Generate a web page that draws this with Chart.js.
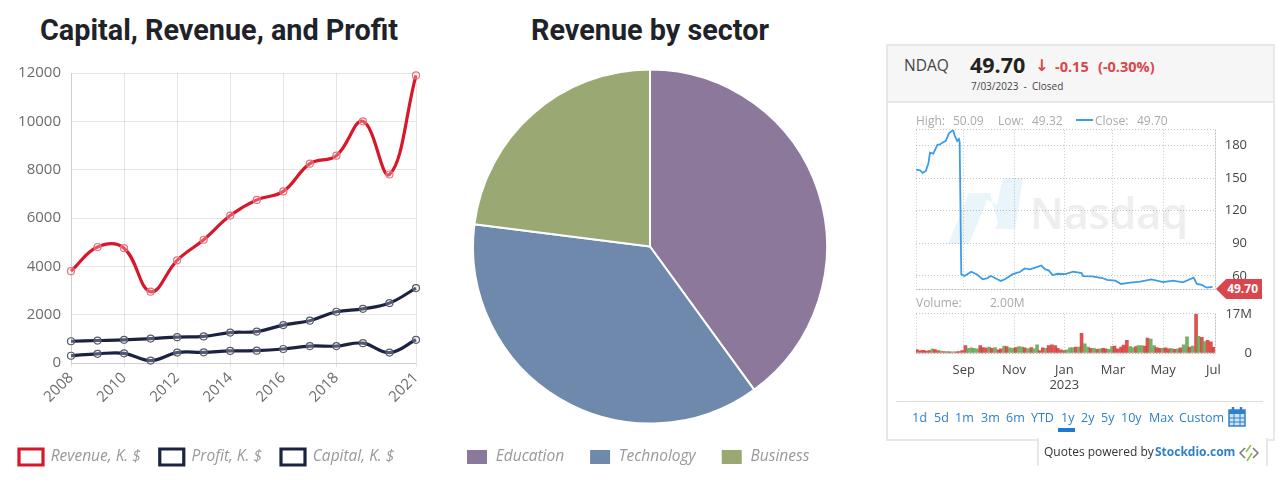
<!DOCTYPE html>
<html>
<head>
<meta charset="utf-8">
<title>Capital, Revenue, and Profit</title>
<script src="https://cdn.jsdelivr.net/npm/chart.js@4"></script>
<style>
  html, body { margin: 0; padding: 0; background: #fff; }
  body { position: relative; width: 1280px; height: 490px; overflow: hidden; font-family: "Open Sans", sans-serif; }
  canvas { position: absolute; display: block; }
  .t { position: absolute; white-space: nowrap; line-height: 1; }
  .title { font: 700 28.8px Roboto, sans-serif; color: #1f2329; transform: translateX(-50%); top: 13px; }
  .gray { color: #aaa; font-size: 12px; }
  .link { color: #2f80c8; font-size: 12.5px; top: 412px; }
  .loss { color: #d9474c; font-size: 14.5px; font-weight: 700; top: 60px; }
  #panel { position: absolute; left: 886px; top: 44px; width: 385px; height: 393px; border: 2px solid #e8e8e8; box-sizing: content-box; }
  #head { position: absolute; left: 888px; top: 46px; width: 385px; height: 55px; background: #f6f6f6; border-bottom: 2px solid #e8e8e8; }
  #sep { position: absolute; left: 896px; top: 401px; width: 367px; height: 1px; background: #ddd; }
  #credit { position: absolute; left: 1037px; top: 438px; width: 227px; height: 28px; background: #fff; border: 2px solid #e8e8e8; border-top: 0; border-bottom: 0; }
  #tag { position: absolute; left: 1216px; top: 279px; width: 46px; height: 20px; background: #d9474c; color: #fff; font: 700 12px/20px "Open Sans", sans-serif; text-align: right; padding-right: 4px; box-sizing: border-box; clip-path: polygon(0 50%, 22% 0, 100% 0, 100% 100%, 22% 100%); z-index: 5; }
  #underline { position: absolute; left: 1058px; top: 428px; width: 17px; height: 4px; background: #1f78d1; }
  #mark { position: absolute; left: 1030px; top: 183px; font: 600 43px "Open Sans", sans-serif; color: #eeeeee; }
</style>
</head>
<body>

<div class="t title" style="left:219px">Capital, Revenue, and Profit</div>
<div class="t title" style="left:650px">Revenue by sector</div>

<div id="panel"></div>
<div id="head"></div>
<div id="sep"></div>
<div id="credit"></div>

<!-- watermark -->
<svg style="position:absolute;left:945px;top:175px" width="85" height="75">
  <polygon points="3,69 24,18 45,18 24,69" fill="#e9f4fb"/>
  <polygon points="30,18 45,18 54,52 78,3 58,3 52,30" fill="#e9f4fb"/>
  <polygon points="50,54 78,3 70,54" fill="#e9f4fb"/>
</svg>
<div id="mark" class="t">Nasdaq</div>

<canvas id="lineChart" width="450" height="422" style="left:0;top:54px"></canvas>
<canvas id="pieChart" width="418" height="416" style="left:441px;top:60px"></canvas>
<canvas id="priceChart" width="386" height="199" style="left:886px;top:110px"></canvas>
<canvas id="volumeChart" width="386" height="103" style="left:886px;top:293px"></canvas>

<div class="t" style="left:904px;top:58px;font-size:15.5px;color:#444">NDAQ</div>
<div class="t" style="left:970px;top:54px;font-size:21.5px;font-weight:700;color:#222">49.70</div>
<div class="t loss" style="left:1035px;top:58px;font-family:'DejaVu Sans',sans-serif;font-size:16px">&#8595;</div>
<div class="t loss" style="left:1055px">-0.15</div>
<div class="t loss" style="left:1098px">(-0.30%)</div>
<div class="t" style="left:971px;top:81px;font-size:10px;color:#444">7/03/2023&nbsp; - &nbsp;Closed</div>

<div class="t gray" style="left:916px;top:115px">High:</div>
<div class="t gray" style="left:953px;top:115px">50.09</div>
<div class="t gray" style="left:998px;top:115px">Low:</div>
<div class="t gray" style="left:1032px;top:115px">49.32</div>
<div style="position:absolute;left:1076px;top:119px;width:17px;height:2px;background:#3b9de8"></div>
<div class="t gray" style="left:1095px;top:115px">Close:</div>
<div class="t gray" style="left:1137px;top:115px">49.70</div>
<div class="t gray" style="left:916px;top:297px">Volume:</div>
<div class="t gray" style="left:990px;top:297px">2.00M</div>

<div id="tag">49.70</div>

<div class="t link" style="left:912px">1d</div>
<div class="t link" style="left:934px">5d</div>
<div class="t link" style="left:955px">1m</div>
<div class="t link" style="left:981px">3m</div>
<div class="t link" style="left:1006px">6m</div>
<div class="t link" style="left:1031px">YTD</div>
<div class="t link" style="left:1061px">1y</div>
<div class="t link" style="left:1081px">2y</div>
<div class="t link" style="left:1101px">5y</div>
<div class="t link" style="left:1121px">10y</div>
<div class="t link" style="left:1149px">Max</div>
<div class="t link" style="left:1179px">Custom</div>
<div id="underline"></div>
<svg style="position:absolute;left:1228px;top:407px" width="18" height="20">
  <rect x="1" y="3" width="16" height="16" fill="#cfe3f5" stroke="#2f80c8" stroke-width="1.5"/>
  <rect x="1" y="3" width="16" height="4" fill="#2f80c8"/>
  <path d="M1 11H17M1 15H17M6 7V19M12 7V19" stroke="#2f80c8" stroke-width="1"/>
  <path d="M5 0V4M13 0V4" stroke="#2f80c8" stroke-width="2.5"/>
</svg>

<div class="t" style="left:1044px;top:446px;font-size:12px;color:#333">Quotes powered by</div>
<div class="t" style="left:1155px;top:446px;font-size:12px;font-weight:700;color:#2f80c8">Stockdio.com</div>
<svg style="position:absolute;left:1239px;top:443px" width="20" height="20" fill="none" stroke-width="1.5">
  <path d="M6 5L1 10L6 15M14 5L19 10L14 15" stroke="#777"/>
  <path d="M12 2L7 9M13 10L8 18" stroke="#8cc04b"/>
</svg>

<script>
// --- left chart data
const years = ['2008','2009','2010','2011','2012','2013','2014','2015','2016','2017','2018','2019','2020','2021'];
const yearLabels = ['2008','2010','2012','2014','2016','2018','2021'];
const revenue = [3800,4800,4750,2950,4250,5100,6100,6750,7100,8250,8580,10000,7800,11900];
const profit = [300,380,400,100,430,440,500,510,580,700,700,820,430,960];
const capital = [900,930,960,1010,1070,1100,1260,1300,1570,1750,2120,2240,2480,3100];

// --- pie data
const sectors = ['Education','Technology','Business'];
const sectorRevenue = [40,37,23];

// --- stock data (x = days since start of the 1y range)
const closeDays = [0,5,8,12,15,17,21,26,29,33,36,40,45,47,50,52,53,55,59,67,74,81,86,91,96,103,108,117,123,126,132,138,144,152,157,161,166,172,181,191,201,203,214,226,232,242,249,260,272,286,300,312,324,337,341,347,353,360];
const closeValues = [157.8,157.2,154.8,156.6,163.3,173.3,172.4,180.6,180.9,183,184,191.2,194.3,189.1,184,186,183,61.4,59.9,63.9,61.4,56.9,57.8,59.9,58.1,55.4,56.9,61.4,63,63.6,66.9,66,67.5,69.6,66,65.1,60.8,62,61.7,63.9,62.7,59.9,59.6,58.1,56.3,55.7,52.6,53.8,54.8,56.9,54.4,55.7,54.1,58.4,52.6,51.7,49.2,49.9];
const volumeDays = [1,5,9,12,16,20,23,27,30,34,38,41,45,49,52,56,60,63,67,70,74,78,81,85,89,92,96,100,103,107,110,114,118,121,125,129,132,136,140,143,147,150,154,158,161,165,169,172,176,180,183,187,190,194,198,201,205,209,212,216,220,223,227,230,234,238,241,245,249,252,256,260,263,267,270,274,278,281,285,289,292,296,300,303,307,310,314,318,321,325,329,332,336,340,343,347,350,354,358,361];
const volumeValues = [1.5,1.0,1.2,0.8,1.0,1.7,1.5,1.0,0.8,0.6,0.6,0.5,0.5,0.5,0.6,1.0,3.2,2.0,2.2,2.0,1.8,3.2,2.4,2.2,2.6,2.0,2.4,1.4,1.8,3.0,2.8,2.2,2.0,2.4,2.8,2.6,2.2,1.9,2.4,1.8,3.5,1.0,2.2,2.0,3.2,3.5,3.2,2.0,1.4,1.0,1.4,2.2,2.4,2.6,2.6,8.5,4.0,2.6,2.0,2.0,1.6,1.8,2.0,1.8,1.6,2.8,3.0,1.8,2.6,3.4,5.5,2.8,2.4,2.8,3.2,3.2,3.0,6.5,6.0,3.2,2.4,2.0,2.0,2.2,1.8,1.9,1.6,1.8,2.2,3.5,7.0,2.6,3.0,17,7.2,6.8,5.0,5.5,4.8,2.5];
const volumeSides = ['down','down','down','down','down','up','down','down','up','down','up','down','up','down','down','down','down','up','up','up','up','down','down','down','up','down','up','down','down','up','down','up','up','down','up','up','down','up','down','up','up','down','down','up','down','down','down','down','down','down','up','up','up','down','up','down','up','up','down','up','down','up','down','down','up','up','down','down','down','down','down','up','up','down','up','up','down','down','up','up','down','down','up','down','down','up','down','up','down','up','up','down','up','down','up','down','up','down','down','down'];
const monthDays = [58,119,180,239,300,361];
const monthLabels = ['Sep','Nov',['Jan','2023'],'Mar','May','Jul'];
const priceTicks = [60,90,120,150,180];
const volumeTicks = [0,17];
const volumeTickLabels = ['0','17M'];

const RED = '#d9172b';
const NAVY = '#1b2342';
const UP = 'rgba(104,168,88,0.9)';
const DOWN = 'rgba(217,62,62,0.9)';
const DOT = 'rgba(0,0,0,0.22)';
const dayMax = 363;
const priceMin = 47.8, priceMax = 194.4;

Chart.defaults.animation = false;
Chart.defaults.responsive = false;
Chart.defaults.font.family = '"Open Sans", sans-serif';

function lineSet(label, data, color, dot) {
  return {
    label, data,
    borderColor: color,
    backgroundColor: '#fff',
    borderWidth: 3.2,
    tension: 0.4,
    pointRadius: 3.5,
    pointBorderWidth: 1.2,
    pointBorderColor: dot,
    pointBackgroundColor: 'rgba(255,255,255,0.25)'
  };
}

/* === revenue lines === */
new Chart(document.getElementById('lineChart'), {
  type: 'line',
  data: {
    labels: years,
    datasets: [
      lineSet('Revenue, K. $', revenue, RED, '#e8707c'),
      lineSet('Profit, K. $', profit, NAVY, '#555a70'),
      lineSet('Capital, K. $', capital, NAVY, '#555a70')
    ]
  },
  options: {
    layout: { padding: { bottom: 1 } },
    clip: false,
    scales: {
      x: {
        afterFit: (s) => { s.height = 67; },
        grid: { color: 'rgba(0,0,0,0.1)', tickLength: 4 },
        ticks: {
          autoSkip: false, minRotation: 45, maxRotation: 45, color: '#6c6c6c', font: { size: 15 }, padding: 2,
          callback(v) { const y = this.getLabelForValue(v); return yearLabels.includes(y) ? y : null; }
        }
      },
      y: {
        min: 0, max: 12000,
        afterFit: (s) => { s.width = 71; },
        grid: { color: 'rgba(0,0,0,0.1)', tickLength: 0 },
        ticks: { stepSize: 2000, color: '#6c6c6c', font: { size: 15 }, padding: 10, callback: (v) => String(v) }
      },
      // empty axis, keeps the plot clear of the right edge without narrowing the legend row
      gutter: {
        position: 'right',
        afterFit: (s) => { s.width = 34; },
        grid: { display: false }, border: { display: false }, ticks: { display: false }
      }
    },
    plugins: {
      legend: {
        position: 'bottom', align: 'start',
        labels: { boxWidth: 24, boxHeight: 16, padding: 19, color: '#999', font: { size: 15.5, style: 'italic' } }
      }
    }
  }
});

/* === sector pie === */
new Chart(document.getElementById('pieChart'), {
  type: 'pie',
  data: {
    labels: sectors,
    datasets: [{
      data: sectorRevenue,
      backgroundColor: ['#8b789b', '#6e89ac', '#9aa873'],
      borderColor: '#fff',
      borderWidth: 2,
      radius: 177,
      clip: false
    }]
  },
  options: {
    layout: { padding: { top: 9, bottom: 1 } },
    plugins: {
      legend: {
        position: 'bottom', align: 'start',
        labels: { boxWidth: 22, boxHeight: 16, padding: 25, color: '#999', font: { size: 15.5, style: 'italic' } }
      }
    }
  }
});

/* === stock panel === */
function dayAxis(showLabels) {
  return {
    type: 'linear', min: 0, max: dayMax, offset: false,
    afterBuildTicks: (s) => { s.ticks = [0, ...monthDays, dayMax].map((value) => ({ value })); },
    border: { dash: [1, 2] },
    grid: {
      drawTicks: false, offset: false,
      color: (ctx) => (ctx.tick && ctx.tick.value === monthDays[5] ? 'transparent' : DOT)
    },
    ticks: {
      display: showLabels, autoSkip: false, maxRotation: 0, color: '#444', font: { size: 13 }, padding: 9,
      callback: (v) => { const i = monthDays.indexOf(v); return i < 0 ? '' : monthLabels[i]; }
    }
  };
}

new Chart(document.getElementById('priceChart'), {
  type: 'line',
  data: {
    datasets: [{
      data: closeDays.map((x, i) => ({ x, y: closeValues[i] })),
      borderColor: '#3b9de8',
      borderWidth: 1.8,
      pointRadius: 0,
      tension: 0
    }]
  },
  options: {
    layout: { padding: { left: 30, right: 25 } },
    scales: {
      x: { ...dayAxis(false), afterFit: (s) => { s.height = 11; } },
      y: {
        position: 'right', min: priceMin, max: priceMax,
        afterBuildTicks: (s) => { s.ticks = [priceMin, ...priceTicks, priceMax].map((value) => ({ value })); },
        afterFit: (s) => { s.width = 32; },
        border: { dash: [1, 2] },
        grid: { drawTicks: false, color: DOT },
        ticks: {
          crossAlign: 'far', padding: 12, color: '#444', font: { size: 13 },
          callback: (v) => (priceTicks.includes(v) ? String(v) : '')
        }
      }
    },
    plugins: { legend: { display: false }, tooltip: { enabled: false } }
  }
});

new Chart(document.getElementById('volumeChart'), {
  type: 'bar',
  data: {
    datasets: [{
      data: volumeDays.map((x, i) => ({ x, y: volumeValues[i] })),
      backgroundColor: volumeSides.map((s) => (s === 'up' ? UP : DOWN)),
      barThickness: 3
    }]
  },
  options: {
    layout: { padding: { left: 30, right: 20 } },
    scales: {
      x: { ...dayAxis(true), afterFit: (s) => { s.height = 43; } },
      y: {
        position: 'right', min: 0, max: 17,
        afterBuildTicks: (s) => { s.ticks = volumeTicks.map((value) => ({ value })); },
        afterFit: (s) => { s.width = 37; },
        border: { dash: [1, 2] },
        grid: { drawTicks: false, color: DOT },
        ticks: {
          crossAlign: 'far', padding: 13, color: '#444', font: { size: 13 },
          callback: (v) => volumeTickLabels[volumeTicks.indexOf(v)]
        }
      }
    },
    plugins: { legend: { display: false }, tooltip: { enabled: false } }
  }
});
</script>
</body>
</html>
